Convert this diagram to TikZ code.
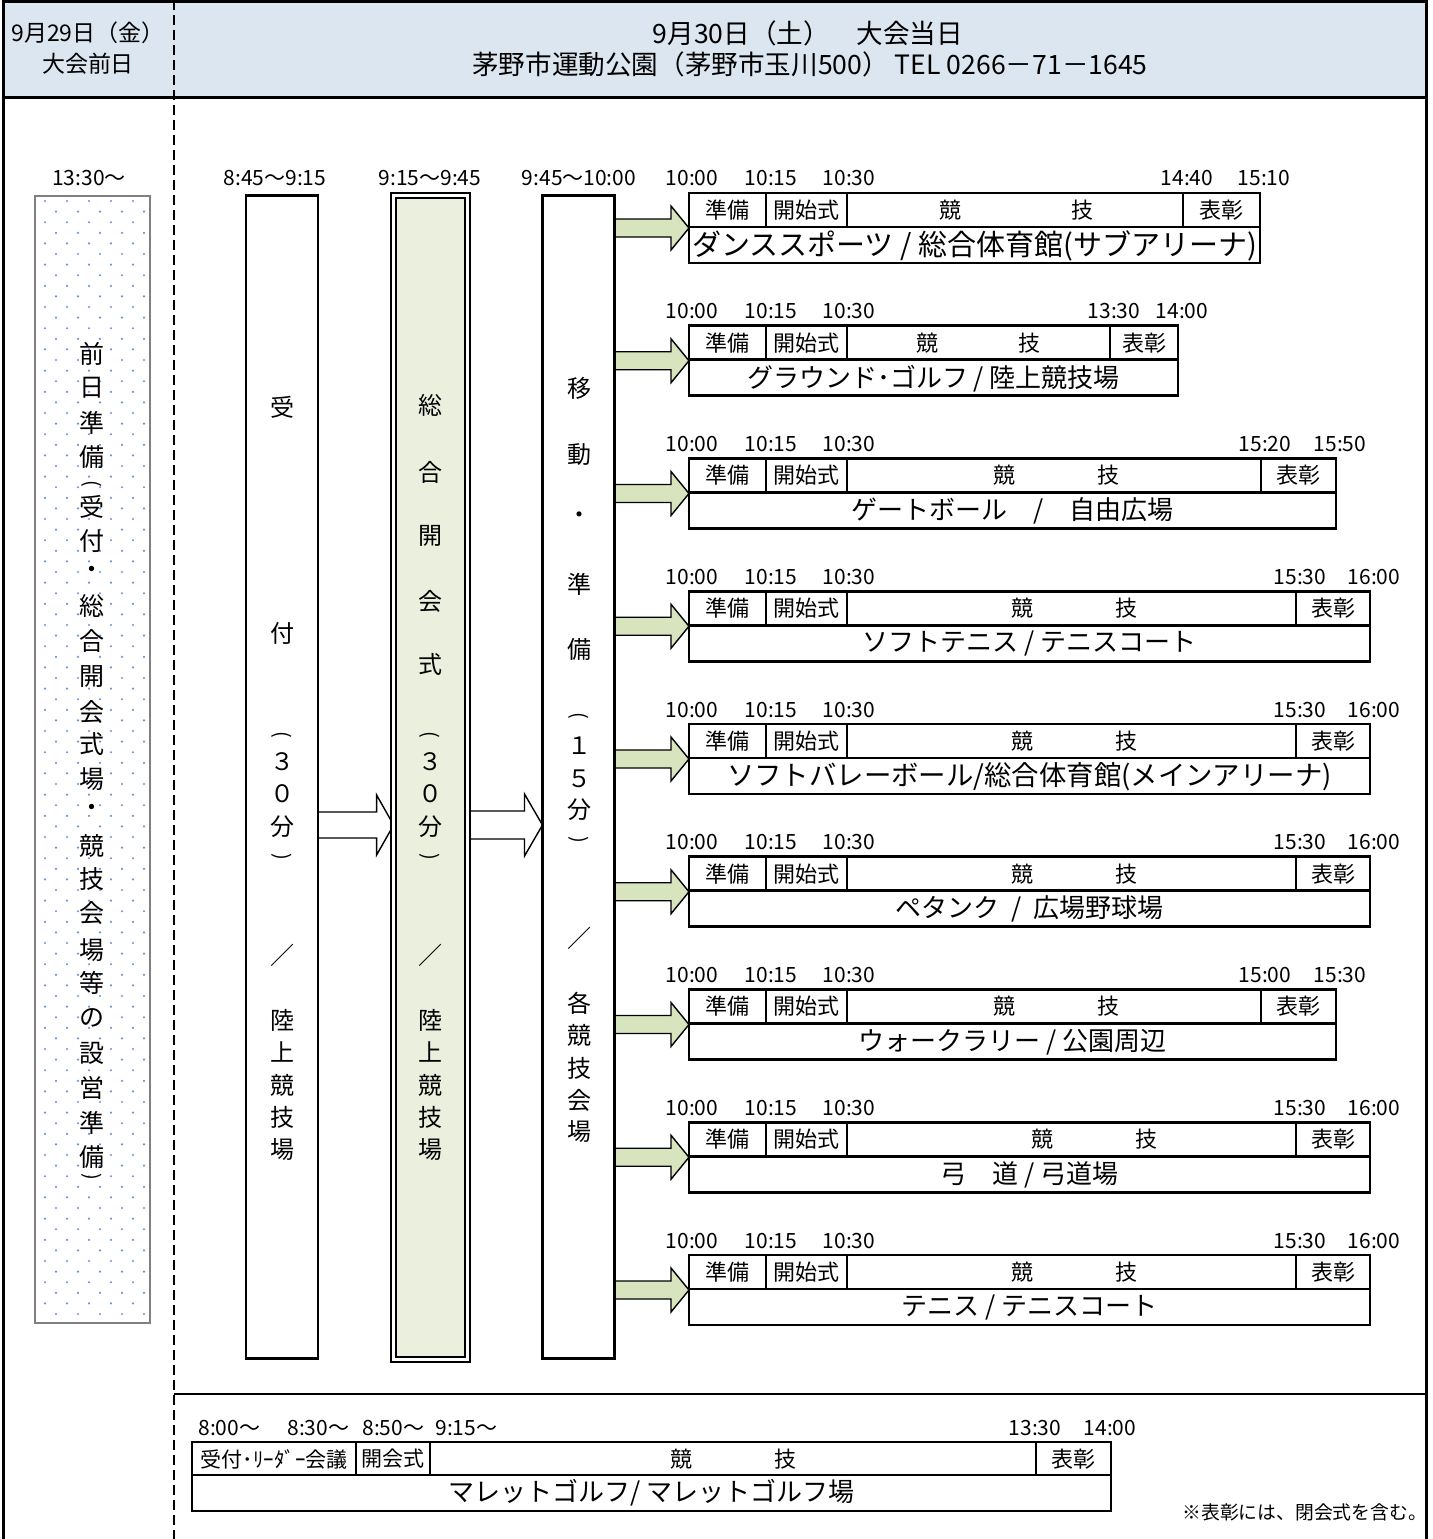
\documentclass[tikz,border=0pt]{standalone}
\usepackage{fontspec}
\setmainfont{Noto Sans CJK JP}
\usetikzlibrary{calc}
\usetikzlibrary{backgrounds}
\definecolor{hdrblue}{RGB}{220,230,241}
\definecolor{palegreen}{RGB}{235,239,222}
\definecolor{arrgreen}{RGB}{215,228,189}
\definecolor{dotblue}{RGB}{100,150,220}
\definecolor{boxgray}{RGB}{128,128,128}
\tikzset{frame/.style = {line width=1.5pt},
         dashline/.style = {line width=1pt, dash pattern=on 5pt off 2.5pt},
         colbox/.style = {draw, line width=1.4pt, fill=white, inner sep=0pt, outer sep=0pt, anchor=north west},
         evbox/.style = {draw, line width=1.3pt, fill=white, inner sep=0pt, outer sep=0pt, anchor=north west, minimum height=35pt},
         cell/.style = {line width=1.3pt},
         tlabel/.style = {font=\fontsize{10.5}{12}\selectfont, inner sep=0pt},
         celltext/.style = {font=\fontsize{11}{13}\selectfont, inner sep=0pt},
         evtext/.style = {font=\fontsize{13}{15}\selectfont, inner sep=0pt},
         vtext/.style = {font=\fontsize{12.5}{14}\selectfont, inner sep=0pt},
         vparen/.style = {font=\fontsize{10}{12}\selectfont, inner sep=0pt, rotate=-90},
         hdrtext/.style = {font=\fontsize{13.3}{15}\selectfont, inner sep=0pt}}
% block arrow: fill, from, to, shaft half, head half, head length
\newcommand{\fatarrow}[6]{%
  \filldraw[fill=#1, line width=0.7pt, line join=miter]
    let \p1=(#2), \p2=(#3) in
    (\x1,\y1+#4) -- (\x2-#6,\y1+#4) -- (\x2-#6,\y1+#5) -- (\x2,\y1)
    -- (\x2-#6,\y1-#5) -- (\x2-#6,\y1-#4) -- (\x1,\y1-#4) -- cycle;}

\begin{document}
\begin{tikzpicture}[x=0.5pt, y=-0.5pt]
    \useasboundingbox (0,0) rectangle (1433,1539);
    % header and frame
    \fill [hdrblue] (3,1.5) rectangle (1426,97);
    \draw [frame] (3,1539) -- (3,1.5) -- (1426,1.5) -- (1426,1539);
    \draw [frame] (3,97) -- (1426,97);
    \draw [dashline] (174,0) -- (174,1539);
    \draw [line width=0.8pt] (174,1394) -- (1426,1394);

    \node [hdrtext, font=\fontsize{11.5}{13}\selectfont] (dayone) at (88,33) {9月29日（金）};
    \node [hdrtext, font=\fontsize{11.5}{13}\selectfont] (dayonesub) at (88,64) {大会前日};
    \node [hdrtext] (daytwo) at (808,33) {9月30日（土）　大会当日};
    \node [hdrtext] (daytwosub) at (810,64) {茅野市運動公園（茅野市玉川500）\ TEL 0266－71－1645};

    % day before
    \node [tlabel] (tzen) at (89,178) {13:30〜};
    \node [draw=boxgray, line width=0.8pt, fill=white, inner sep=0pt, outer sep=0pt,
           anchor=north west, minimum width=57.5pt, minimum height=563.5pt] (zenjitsu) at (35,196) {};
    \foreach \r in {0,...,105}
      \foreach \c in {0,...,4}
        \fill [dotblue] ({45+22*\c+11*mod(\r,2)},{201+10.6*\r}) circle (0.6pt);
    \foreach \ch/\yy [count=\k] in {前/354,日/388,準/423,備/457,受/507,付/541,・/572,
        総/606,合/641,開/677,会/712,式/744,場/779,・/810,競/846,技/879,会/913,場/950,
        等/983,の/1018,設/1053,営/1088,準/1123,備/1157}
      \node [vtext] (zen\k) at (92,\yy) {\ch};
    \node [vparen] (zenpa) at (92,484) {(};
    \node [vparen] (zenpb) at (92,1177) {)};

    % main columns
    \node [tlabel] (tuke) at (275,178) {8:45〜9:15};
    \node [tlabel] (tkai) at (430,178) {9:15〜9:45};
    \node [tlabel] (tido) at (579,178) {9:45〜10:00};
    \node [colbox, minimum width=36pt, minimum height=581.5pt] (uke) at (246,195.5) {};
    \node [colbox, fill=palegreen, double, double distance=1.6pt, line width=1pt,
           minimum width=36.9pt, minimum height=581.9pt] (kaikai) at (393.6,195.6) {};
    \node [colbox, minimum width=36pt, minimum height=581.5pt] (ido) at (542.5,195.5) {};

    \foreach \ch/\yy [count=\k] in {受/407,付/633,３/762,０/794,分/827,
        ／/955,陸/1020,上/1052,競/1085,技/1117,場/1150}
      \node [vtext, font=\fontsize{12}{14}\selectfont] (uk\k) at (282,\yy) {\ch};
    \node [vparen] (ukpa) at (282,735) {(};
    \node [vparen] (ukpb) at (282,857) {)};
    \foreach \ch/\yy [count=\k] in {総/405,合/472,開/536,会/601,式/664,３/762,０/794,
        分/827,／/955,陸/1020,上/1052,競/1085,技/1117,場/1150}
      \node [vtext, font=\fontsize{12}{14}\selectfont] (kk\k) at (430,\yy) {\ch};
    \node [vparen] (kkpa) at (430,735) {(};
    \node [vparen] (kkpb) at (430,857) {)};
    \foreach \ch/\yy [count=\k] in {移/388,動/455,・/518,準/584,備/649,１/746,５/779,
        分/810,／/938,各/1003,競/1035,技/1068,会/1100,場/1132}
      \node [vtext, font=\fontsize{12}{14}\selectfont] (id\k) at (579,\yy) {\ch};
    \node [vparen] (idpa) at (579,716) {(};
    \node [vparen] (idpb) at (579,840) {)};

    % events
    \foreach \i/\hx/\rx/\ta/\tb/\kc/\kw/\nm in {
        1/1183/1260/14:40/15:10/1016/66/{\fontsize{14.5}{16}\selectfont ダンススポーツ / 総合体育館(サブアリーナ)},
        2/1110/1178/13:30/14:00/978/51/{グラウンド･ゴルフ / 陸上競技場},
        3/1261/1336/15:20/15:50/1056/52/{ゲートボール　/　自由広場},
        4/1296/1370/15:30/16:00/1074/52/{ソフトテニス / テニスコート},
        5/1296/1370/15:30/16:00/1074/52/{\fontsize{13.7}{15}\selectfont ソフトバレーボール/総合体育館(メインアリーナ)},
        6/1296/1370/15:30/16:00/1074/52/{ペタンク\ \ / \ 広場野球場},
        7/1261/1336/15:00/15:30/1056/52/{ウォークラリー / 公園周辺},
        8/1296/1370/15:30/16:00/1094/52/{弓　道 / 弓道場},
        9/1296/1370/15:30/16:00/1074/52/{テニス / テニスコート}} {
      \pgfmathsetmacro\evtop{193+132.75*(\i-1)}
      \pgfmathsetmacro\evmid{\evtop+34}
      \pgfmathsetmacro\rowa{\evtop+17}
      \pgfmathsetmacro\rowb{\evtop+52.5}
      \pgfmathsetmacro\tly{\evtop-14.5}
      \pgfmathsetmacro\ew{(\rx-689)*0.5}
      \node [evbox, minimum width=\ew pt] (ev\i) at (689,\evtop) {};
      \draw [cell] (689,\evmid) -- (\rx,\evmid);
      \foreach \xx in {766,847,\hx}
        \draw [cell] (\xx,\evtop) -- (\xx,\evmid);
      \node [celltext] (jb\i) at (727.5,\rowa) {準備};
      \node [celltext] (ks\i) at (806.5,\rowa) {開始式};
      \node [celltext] (kg\i) at ({\kc-\kw},\rowa) {競};
      \node [celltext] (gi\i) at ({\kc+\kw},\rowa) {技};
      \node [celltext] (hs\i) at ({(\hx+\rx)/2},\rowa) {表彰};
      \node [evtext] (nm\i) at ({(689+\rx)/2},\rowb) {\nm};
      \node [tlabel] (ta\i) at (692,\tly) {10:00};
      \node [tlabel] (tb\i) at (771,\tly) {10:15};
      \node [tlabel] (tc\i) at (849,\tly) {10:30};
      \node [tlabel] (td\i) at ({\hx+4},\tly) {\ta};
      \node [tlabel] (te\i) at ({\rx+4},\tly) {\tb};
    }

    % arrows
    \coordinate (midrow) at (0,825);
    \begin{scope}[on background layer]
      \fatarrow{white}{uke.east |- midrow}{kaikai.west |- midrow}{6.5pt}{15pt}{8.5pt}
      \fatarrow{white}{kaikai.east |- midrow}{ido.west |- midrow}{7pt}{15.5pt}{9pt}
      \foreach \i in {1,...,9} {
        \fatarrow{arrgreen}{ido.east |- ev\i.west}{ev\i.west}{4.5pt}{11pt}{9pt}
      }
    \end{scope}

    % mallet golf
    \node [tlabel, anchor=west] (mga) at (198,1428) {8:00〜};
    \node [tlabel, anchor=west] (mgb) at (287,1428) {8:30〜};
    \node [tlabel, anchor=west] (mgc) at (362,1428) {8:50〜};
    \node [tlabel, anchor=west] (mgd) at (435,1428) {9:15〜};
    \node [tlabel] (mge) at (1035,1428) {13:30};
    \node [tlabel] (mgf) at (1110,1428) {14:00};
    \node [evbox, minimum width=459.5pt, minimum height=34.5pt] (mallet) at (192,1442) {};
    \draw [cell] (192,1475) -- (1111,1475);
    \foreach \xx in {356,430,1036}
      \draw [cell] (\xx,1442) -- (\xx,1475);
    \node [celltext, font=\fontsize{10.5}{12}\selectfont] (mgk) at (274,1459) {受付･ﾘｰﾀﾞｰ会議};
    \node [celltext, font=\fontsize{10.5}{12}\selectfont] (mgo) at (393,1459) {開会式};
    \node [celltext] (mgx) at (681,1459) {競};
    \node [celltext] (mgy) at (785,1459) {技};
    \node [celltext] (mgh) at (1073.5,1459) {表彰};
    \node [evtext] (mgn) at (651.5,1493) {マレットゴルフ/ マレットゴルフ場};
    \node [tlabel, font=\fontsize{9.4}{11}\selectfont, anchor=west] (note) at (1182,1512) {※表彰には、閉会式を含む。};
  \end{tikzpicture}
\end{document}
